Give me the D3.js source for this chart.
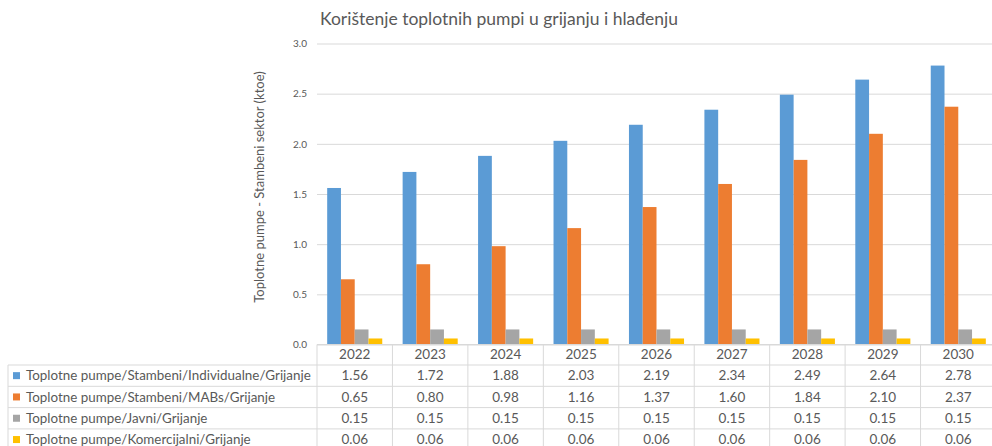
<!DOCTYPE html>
<html>
<head>
<meta charset="utf-8">
<script src="https://cdn.jsdelivr.net/npm/d3@7"></script>
<style>
  body { margin: 0; background: #fff; }
  svg { display: block; font-family: Lato, "Liberation Sans", sans-serif; }
</style>
</head>
<body>
<div id="chart"></div>
<script>
// chart values
const years = ['2022', '2023', '2024', '2025', '2026', '2027', '2028', '2029', '2030'];
const seriesNames = [
    'Toplotne pumpe/Stambeni/Individualne/Grijanje',
    'Toplotne pumpe/Stambeni/MABs/Grijanje',
    'Toplotne pumpe/Javni/Grijanje',
    'Toplotne pumpe/Komercijalni/Grijanje'
];
const individualne = [1.56, 1.72, 1.88, 2.03, 2.19, 2.34, 2.49, 2.64, 2.78];
const mabs = [0.65, 0.80, 0.98, 1.16, 1.37, 1.60, 1.84, 2.10, 2.37];
const javni = [0.15, 0.15, 0.15, 0.15, 0.15, 0.15, 0.15, 0.15, 0.15];
const komercijalni = [0.06, 0.06, 0.06, 0.06, 0.06, 0.06, 0.06, 0.06, 0.06];
const yTicks = [0, 0.5, 1.0, 1.5, 2.0, 2.5, 3.0];
const colors = ['#5B9BD5', '#ED7D31', '#A5A5A5', '#FFC000'];

const seriesValues = [individualne, mabs, javni, komercijalni];

const W = 992, H = 446;
const plot = { left: 317, right: 996, top: 43.5, bottom: 344.5 };
const textColor = '#595959';
const gridColor = '#d9d9d9';

const svg = d3.select('#chart').append('svg')
    .attr('width', W)
    .attr('height', H);

let x = d3.scaleBand()
    .domain(years)
    .range([plot.left, plot.right])
    .paddingInner(0.27)
    .paddingOuter(0.135);

let xSeries = d3.scaleBand()
    .domain(d3.range(seriesNames.length))
    .range([0, x.bandwidth()]);

let y = d3.scaleLinear()
    .domain([0, 3])
    .range([plot.bottom, plot.top]);

// gridlines + y labels
let yAxis = d3.axisLeft(y)
    .tickValues(yTicks)
    .tickFormat(d3.format('.1f'))
    .tickSize(-(plot.right - plot.left))
    .tickPadding(10);
let gY = svg.append('g')
    .attr('transform', 'translate(' + plot.left + ',0)')
    .call(yAxis);
gY.select('.domain').remove();
gY.selectAll('.tick line').attr('stroke', gridColor).attr('stroke-width', 1);
gY.selectAll('.tick text')
    .attr('fill', textColor)
    .style('font-size', '10px')
    .style('font-family', 'Lato, sans-serif');

// bars
seriesValues.forEach(function (vals, si) {
    svg.append('g')
        .selectAll('rect')
        .data(years.map((yr, i) => ({ year: yr, v: vals[i] })))
        .join('rect')
        .attr('x', d => x(d.year) + xSeries(si))
        .attr('width', xSeries.bandwidth())
        .attr('y', d => y(d.v))
        .attr('height', d => y(0) - y(d.v))
        .attr('fill', colors[si]);
});

// title
svg.append('text')
    .attr('x', 320)
    .attr('y', 25)
    .attr('fill', textColor)
    .style('font-size', '17.5px')
    .text('Korištenje toplotnih pumpi u grijanju i hlađenju');

// y axis title
svg.append('text')
    .attr('transform', 'translate(264,' + 187 + ') rotate(-90)')
    .attr('text-anchor', 'middle')
    .attr('fill', textColor)
    .style('font-size', '13px')
    .text('Toplotne pumpe - Stambeni sektor (ktoe)');

// data table
const rowTop = plot.bottom;
const headerH = 20.5;
const rowH = 21.3;
const labelLeft = 8;
let step = x.step();
let colEdges = d3.range(years.length + 1).map(i => plot.left + i * step);
let tbl = svg.append('g');
let tableBottom = rowTop + headerH + rowH * seriesNames.length;

// horizontal lines
tbl.append('line')
    .attr('x1', plot.left).attr('x2', plot.right)
    .attr('y1', rowTop).attr('y2', rowTop)
    .attr('stroke', gridColor);
d3.range(seriesNames.length + 1).forEach(function (r) {
    let yy = rowTop + headerH + r * rowH;
    tbl.append('line')
        .attr('x1', labelLeft).attr('x2', plot.right)
        .attr('y1', yy).attr('y2', yy)
        .attr('stroke', gridColor);
});
// vertical lines
colEdges.forEach(function (cx) {
    tbl.append('line')
        .attr('x1', cx).attr('x2', cx)
        .attr('y1', rowTop).attr('y2', tableBottom)
        .attr('stroke', gridColor);
});
tbl.append('line')
    .attr('x1', labelLeft).attr('x2', labelLeft)
    .attr('y1', rowTop + headerH).attr('y2', tableBottom)
    .attr('stroke', gridColor);

// header years
tbl.selectAll('text.year')
    .data(years)
    .join('text')
    .attr('class', 'year')
    .attr('x', d => x(d) + x.bandwidth() / 2)
    .attr('y', rowTop + headerH / 2)
    .attr('dy', '0.35em')
    .attr('text-anchor', 'middle')
    .attr('fill', textColor)
    .style('font-size', '13.5px')
    .text(d => d);

// rows
seriesNames.forEach(function (name, si) {
    let cy = rowTop + headerH + si * rowH + rowH / 2;
    tbl.append('rect')
        .attr('x', 13).attr('y', cy - 3.5)
        .attr('width', 7).attr('height', 7)
        .attr('fill', colors[si]);
    tbl.append('text')
        .attr('x', 26)
        .attr('y', cy)
        .attr('dy', '0.35em')
        .attr('fill', textColor)
        .style('font-size', '13.4px')
        .text(name);
    tbl.selectAll(null)
        .data(seriesValues[si])
        .join('text')
        .attr('x', (d, i) => x(years[i]) + x.bandwidth() / 2)
        .attr('y', cy)
        .attr('dy', '0.35em')
        .attr('text-anchor', 'middle')
        .attr('fill', textColor)
        .style('font-size', '13.5px')
        .text(d => d3.format('.2f')(d));
});
</script>
</body>
</html>
